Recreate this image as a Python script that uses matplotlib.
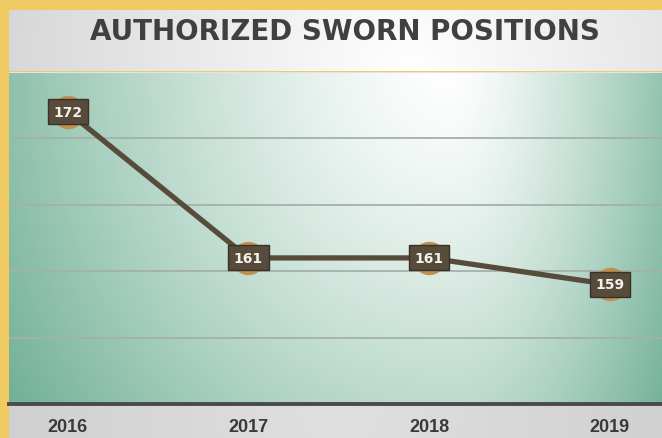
import matplotlib.pyplot as plt
import numpy as np

# chart data
years = ['2016', '2017', '2018', '2019']
positions = [172, 161, 161, 159]
y_ticks = [150, 155, 160, 165, 170, 175]

W, H = 662, 439
fig = plt.figure(figsize=(W / 100, H / 100), dpi=100)
fig.patch.set_facecolor('#f0ca62')


def gradient(h, w, cx, cy, rx_left, rx_right, ry, inner, outer, power=1.0):
    yy, xx = np.mgrid[0:h, 0:w]
    dx = xx - cx
    rx = np.where(dx < 0, rx_left, rx_right)
    t = np.clip(np.hypot(dx / rx, (yy - cy) / ry), 0, 1) ** power
    inner = np.array(inner) / 255.0
    outer = np.array(outer) / 255.0
    return inner * (1 - t[..., None]) + outer * t[..., None]


# title band
ax_t = fig.add_axes([9 / W, (H - 72) / H, (W - 9) / W, 61 / H])
ax_t.imshow(gradient(61, 653, 400, 61, 420, 420, 420, (255, 255, 255), (214, 214, 214)),
            extent=(0, 1, 0, 1), aspect='auto', transform=ax_t.transAxes)
ax_t.axis('off')
ax_t.text(0.515, 0.65, 'AUTHORIZED SWORN POSITIONS', transform=ax_t.transAxes,
          ha='center', va='center', fontsize=20, fontweight='bold', color='#404040')

# bottom band behind the tick labels
ax_b = fig.add_axes([9 / W, 0, (W - 9) / W, 34 / H], zorder=0)
ax_b.imshow(gradient(34, 653, 330, 0, 420, 420, 420, (224, 224, 224), (204, 204, 204)),
            extent=(0, 1, 0, 1), aspect='auto', transform=ax_b.transAxes)
ax_b.axis('off')

# main plot
ax = fig.add_axes([9 / W, (H - 405) / H, (W - 9) / W, 332 / H], zorder=1)
ax.imshow(gradient(332, 653, 440, -10, 520, 260, 600, (255, 255, 255), (116, 178, 152), 1.3),
          extent=(0, 1, 0, 1), aspect='auto', transform=ax.transAxes, zorder=0)

x = np.arange(len(years))
ax.set_xlim(-0.326, 3.29)
ax.set_ylim(150, 175)

for v in y_ticks[1:-1]:
    ax.axhline(v, color='#a3b1aa', lw=1.3, zorder=1)
ax.axhline(175, color='#e4e4e4', lw=1.5, zorder=1)
ax.axhline(150, color='#4a4a4a', lw=2.8, zorder=3, clip_on=False)

ax.plot(x, positions, color='#574c3b', lw=3.8, zorder=2, solid_capstyle='round')
ax.plot(x, positions, 'o', ms=23, color='#c0904f', zorder=2)

for xi, v in zip(x, positions):
    ax.annotate(str(v), (xi, v), ha='center', va='center', fontsize=10,
                fontweight='bold', color='#f4f1ea', zorder=4,
                bbox=dict(boxstyle='square,pad=0.4', fc='#574c3b', ec='#3a3226', lw=1))

ax.set_xticks(x)
ax.set_xticklabels(years, family='Liberation Sans', fontweight='bold',
                   fontsize=13, color='#3a3a3a')
ax.tick_params(axis='x', length=0, pad=10)
ax.set_yticks([])
for s in ax.spines.values():
    s.set_visible(False)

fig.savefig('out.png', dpi=100)
